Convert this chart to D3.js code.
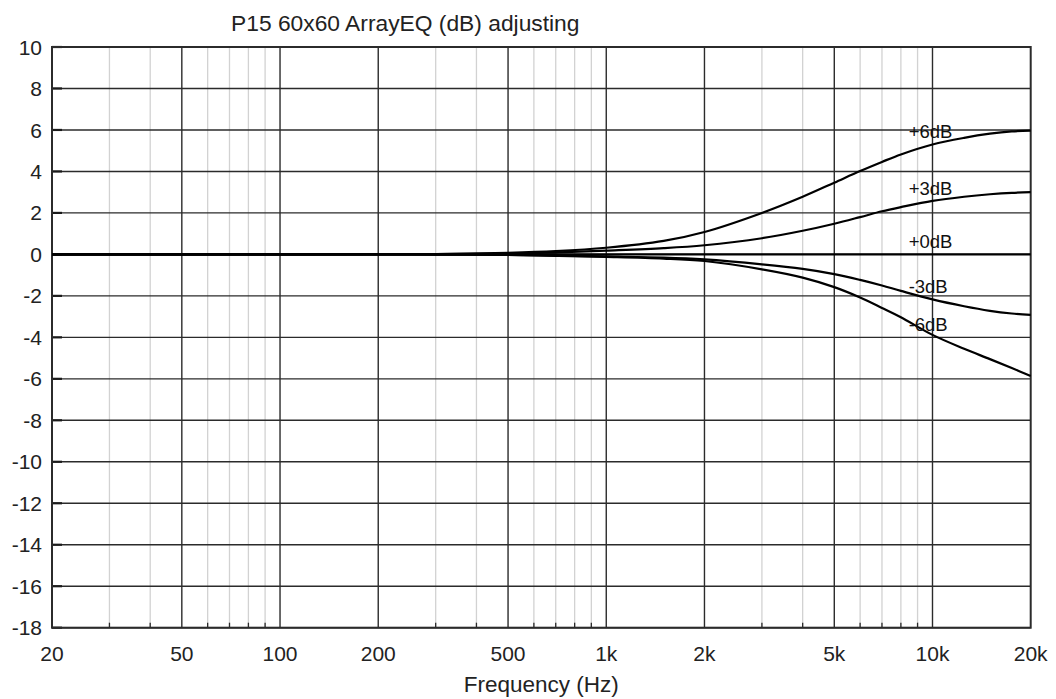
<!DOCTYPE html>
<html>
<head>
<meta charset="utf-8">
<script src="https://cdn.jsdelivr.net/npm/d3@7"></script>
<style>
  html, body { margin: 0; padding: 0; background: #fff; }
  svg { display: block; }
  text { font-family: "Liberation Sans", Arial, sans-serif; fill: #222; }
</style>
</head>
<body>
<svg id="chart" width="1056" height="699"></svg>
<script>
// ---- data ----
const title = "P15 60x60 ArrayEQ (dB) adjusting";
const xLabel = "Frequency (Hz)";
const freqs = [20, 50, 100, 200, 300, 500, 700, 1000, 1500, 2000, 3000, 4000, 5000, 6000, 7000, 8000, 10000, 12500, 15000, 17500, 20000];
const seriesNames = ["+6dB", "+3dB", "+0dB", "-3dB", "-6dB"];
const plus6  = [0, 0, 0, 0.01, 0.02, 0.08, 0.16, 0.32, 0.65, 1.08, 2.0, 2.78, 3.46, 4.02, 4.46, 4.82, 5.3, 5.62, 5.82, 5.93, 5.97];
const plus3  = [0, 0, 0, 0, 0.01, 0.04, 0.09, 0.18, 0.3, 0.44, 0.78, 1.14, 1.48, 1.8, 2.08, 2.28, 2.58, 2.78, 2.9, 2.97, 3.0];
const plus0  = [0, 0, 0, 0, 0, 0, 0, 0, 0, 0, 0, 0, 0, 0, 0, 0, 0, 0, 0, 0, 0];
const minus3 = [0, 0, 0, 0, -0.01, -0.03, -0.06, -0.1, -0.15, -0.24, -0.48, -0.7, -0.95, -1.23, -1.5, -1.76, -2.17, -2.5, -2.72, -2.85, -2.92];
const minus6 = [0, 0, 0, 0, -0.01, -0.03, -0.07, -0.12, -0.2, -0.32, -0.72, -1.12, -1.58, -2.08, -2.58, -3.03, -3.88, -4.55, -5.05, -5.48, -5.86];
const seriesValues = [plus6, plus3, plus0, minus3, minus6];
const majorFreqTicks = [20, 50, 100, 200, 500, 1000, 2000, 5000, 10000, 20000];
const majorFreqLabels = ["20", "50", "100", "200", "500", "1k", "2k", "5k", "10k", "20k"];
const minorFreqTicks = [30, 40, 60, 70, 80, 90, 300, 400, 600, 700, 800, 900, 3000, 4000, 6000, 7000, 8000, 9000];
const yTicks = [10, 8, 6, 4, 2, 0, -2, -4, -6, -8, -10, -12, -14, -16, -18];
// label anchor frequency and dB positions
const labelFreq = 8450;
const labelDb = [5.95, 3.2, 0.65, -1.55, -3.35];

// ---- layout ----
const L = 52, R = 1030.7, T = 47, B = 627.7;
const svg = d3.select("#chart");
const x = d3.scaleLog().domain([20, 20000]).range([L, R]);
const y = d3.scaleLinear().domain([-18, 10]).range([B, T]);

// minor grid
svg.append("g").selectAll("line").data(minorFreqTicks).join("line")
  .attr("x1", d => x(d)).attr("x2", d => x(d)).attr("y1", T).attr("y2", B)
  .attr("stroke", "#d2d2d2").attr("stroke-width", 1.3);
// minor bottom ticks
svg.append("g").selectAll("line").data(minorFreqTicks).join("line")
  .attr("x1", d => x(d)).attr("x2", d => x(d)).attr("y1", B - 5).attr("y2", B)
  .attr("stroke", "#2b2b2b").attr("stroke-width", 1.3);
// major vertical grid
svg.append("g").selectAll("line").data(majorFreqTicks.slice(1, -1)).join("line")
  .attr("x1", d => x(d)).attr("x2", d => x(d)).attr("y1", T).attr("y2", B)
  .attr("stroke", "#2b2b2b").attr("stroke-width", 1.4);
// horizontal grid
svg.append("g").selectAll("line").data(yTicks).join("line")
  .attr("x1", L).attr("x2", R).attr("y1", d => y(d)).attr("y2", d => y(d))
  .attr("stroke", "#2b2b2b").attr("stroke-width", 1.4);
// y inner ticks
svg.append("g").selectAll("line").data(yTicks).join("line")
  .attr("x1", L).attr("x2", L + 10).attr("y1", d => y(d)).attr("y2", d => y(d))
  .attr("stroke", "#1a1a1a").attr("stroke-width", 2.2);
// frame
svg.append("rect").attr("x", L).attr("y", T).attr("width", R - L).attr("height", B - T)
  .attr("fill", "none").attr("stroke", "#2b2b2b").attr("stroke-width", 2);

// y tick labels
svg.append("g").selectAll("text").data(yTicks).join("text")
  .attr("x", 42).attr("y", d => y(d)).attr("dy", "0.36em")
  .attr("text-anchor", "end").style("font-size", "21px").text(d => d);
// x tick labels
svg.append("g").selectAll("text").data(majorFreqTicks).join("text")
  .attr("x", d => x(d)).attr("y", 661).attr("text-anchor", "middle")
  .style("font-size", "21px").text((d, i) => majorFreqLabels[i]);
// axis title
svg.append("text").attr("x", (L + R) / 2).attr("y", 692).attr("text-anchor", "middle")
  .style("font-size", "22.5px").text(xLabel);
// chart title
svg.append("text").attr("x", 231).attr("y", 31).style("font-size", "22.8px").text(title);

// curves
const line = d3.line().x(d => x(d[0])).y(d => y(d[1])).curve(d3.curveCatmullRom.alpha(0.5));
seriesValues.forEach(vals => {
  svg.append("path").datum(freqs.map((f, i) => [f, vals[i]]))
    .attr("d", line).attr("fill", "none").attr("stroke", "#000").attr("stroke-width", 2.2);
});
// curve labels
svg.append("g").selectAll("text").data(seriesNames).join("text")
  .attr("x", x(labelFreq)).attr("y", (d, i) => y(labelDb[i]))
  .attr("dy", "0.36em").style("font-size", "18.5px").style("fill", "#111").text(d => d);
</script>
</body>
</html>
